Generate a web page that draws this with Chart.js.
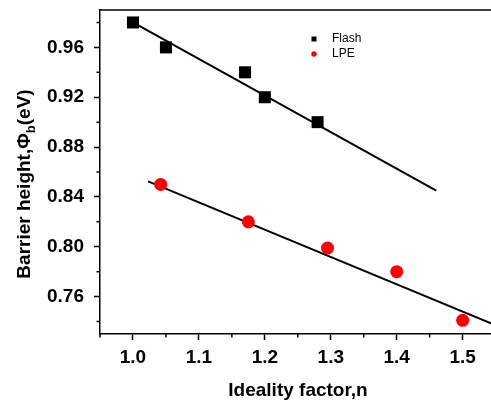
<!DOCTYPE html>
<html>
<head>
<meta charset="utf-8">
<script src="https://cdn.jsdelivr.net/npm/chart.js@4"></script>
<style>
  html, body { margin: 0; padding: 0; background: #fff; }
  #wrap { width: 491px; height: 401px; position: relative; }
</style>
</head>
<body>
<div id="wrap"><canvas id="chart"></canvas></div>
<script>
// ─── Barrier height vs ideality factor ─────────────────────────────────────────
const flashN   = [1.0, 1.05, 1.17, 1.2, 1.28];
const flashPhi = [0.98, 0.96, 0.94, 0.92, 0.90];
const lpeN     = [1.042, 1.175, 1.295, 1.40, 1.50];
const lpePhi   = [0.850, 0.820, 0.799, 0.780, 0.741];

// linear fits (end points)
const flashFitN   = [1.0, 1.46];
const flashFitPhi = [0.98, 0.845];
const lpeFitN     = [1.023, 1.543];
const lpeFitPhi   = [0.8525, 0.7385];

const xMajor = [1.0, 1.1, 1.2, 1.3, 1.4, 1.5];
const xMinor = [0.95, 1.05, 1.15, 1.25, 1.35, 1.45];
const yMajor = [0.76, 0.80, 0.84, 0.88, 0.92, 0.96];
const yMinor = [0.74, 0.78, 0.82, 0.86, 0.90, 0.94, 0.98];

const pts = (xs, ys) => xs.map((x, i) => ({ x, y: ys[i] }));
const BOLD = "bold 19px 'Liberation Sans', Arial, sans-serif";

const frame = {
  id: "frame",
  afterDraw(chart) {
    const { ctx, chartArea: a, scales: { x, y } } = chart;
    ctx.save();
    ctx.strokeStyle = "#000";
    ctx.lineWidth = 1.5;
    // top border
    ctx.beginPath();
    ctx.moveTo(a.left, a.top);
    ctx.lineTo(a.right, a.top);
    ctx.stroke();
    // minor ticks
    ctx.beginPath();
    xMinor.forEach(v => {
      const px = x.getPixelForValue(v);
      ctx.moveTo(px, a.bottom);
      ctx.lineTo(px, a.bottom + 3.5);
    });
    yMinor.forEach(v => {
      const py = y.getPixelForValue(v);
      ctx.moveTo(a.left, py);
      ctx.lineTo(a.left - 3.5, py);
    });
    ctx.stroke();

    // axis titles
    ctx.fillStyle = "#000";
    ctx.font = BOLD;
    ctx.textAlign = "center";
    ctx.textBaseline = "middle";
    ctx.fillText("Ideality factor,n", 298, 391);

    ctx.translate(30, 184);
    ctx.rotate(-Math.PI / 2);
    ctx.textAlign = "left";
    ctx.textBaseline = "alphabetic";
    const p1 = "Barrier height,\u03A6", p2 = "b", p3 = "(eV)";
    const subFont = "bold 13px 'Liberation Sans', Arial, sans-serif";
    const w1 = ctx.measureText(p1).width;
    ctx.font = subFont;
    const w2 = ctx.measureText(p2).width;
    ctx.font = BOLD;
    const w3 = ctx.measureText(p3).width;
    let u = -(w1 + w2 + w3) / 2;
    ctx.fillText(p1, u, 0); u += w1;
    ctx.font = subFont;
    ctx.fillText(p2, u, 5); u += w2;
    ctx.font = BOLD;
    ctx.fillText(p3, u, 0);
    ctx.restore();

    // legend
    ctx.save();
    ctx.fillStyle = "#000";
    ctx.fillRect(314 - 2.5, 39 - 2.5, 5, 5);
    ctx.fillStyle = "#ff0000";
    ctx.beginPath();
    ctx.arc(314, 54, 2.7, 0, Math.PI * 2);
    ctx.fill();
    ctx.fillStyle = "#000";
    ctx.font = "12px 'Liberation Sans', Arial, sans-serif";
    ctx.textBaseline = "middle";
    ctx.fillText("Flash", 332, 39);
    ctx.fillText("LPE", 332, 54);
    ctx.restore();
  }
};

new Chart(document.getElementById("chart"), {
  type: "scatter",
  data: {
    datasets: [
      { label: "Flash", data: pts(flashN, flashPhi), pointStyle: "rect", pointRadius: 8.5,
        backgroundColor: "#000", borderColor: "#000", borderWidth: 0, order: 0 },
      { label: "LPE", data: pts(lpeN, lpePhi), pointStyle: "circle", pointRadius: 6.5,
        backgroundColor: "#ff0000", borderColor: "#ff0000", borderWidth: 0, order: 0 },
      { type: "line", data: pts(flashFitN, flashFitPhi), borderColor: "#000", borderWidth: 2,
        pointRadius: 0, fill: false, order: 1 },
      { type: "line", data: pts(lpeFitN, lpeFitPhi), borderColor: "#000", borderWidth: 2,
        pointRadius: 0, fill: false, order: 1 },
    ],
  },
  options: {
    responsive: true,
    maintainAspectRatio: false,
    animation: false,
    layout: { padding: { top: 10, right: 0, left: 0, bottom: 0 }, autoPadding: false },
    plugins: { legend: { display: false }, tooltip: { enabled: false } },
    scales: {
      x: {
        type: "linear", min: 0.95, max: 1.543,
        afterBuildTicks: s => { s.ticks = xMajor.map(v => ({ value: v })); },
        afterFit: s => { s.height = 67; s.paddingLeft = 0; s.paddingRight = 0; },
        ticks: { color: "#000", font: { family: "'Liberation Sans', Arial, sans-serif", size: 19, weight: "bold" },
                 padding: 6, maxRotation: 0, autoSkip: false, callback: v => v.toFixed(1) },
        grid: { drawOnChartArea: false, drawTicks: true, tickLength: 6, tickWidth: 1.5, tickColor: "#000" },
        border: { display: true, color: "#000", width: 1.5 },
      },
      y: {
        type: "linear", min: 0.73, max: 0.99,
        afterBuildTicks: s => { s.ticks = yMajor.map(v => ({ value: v })); },
        afterFit: s => { s.width = 100; s.paddingTop = 0; s.paddingBottom = 0; },
        ticks: { color: "#000", font: { family: "'Liberation Sans', Arial, sans-serif", size: 19, weight: "bold" },
                 padding: 10, autoSkip: false, callback: v => v.toFixed(2) },
        grid: { drawOnChartArea: false, drawTicks: true, tickLength: 6, tickWidth: 1.5, tickColor: "#000" },
        border: { display: true, color: "#000", width: 1.5 },
      },
    },
  },
  plugins: [frame],
});
</script>
</body>
</html>
